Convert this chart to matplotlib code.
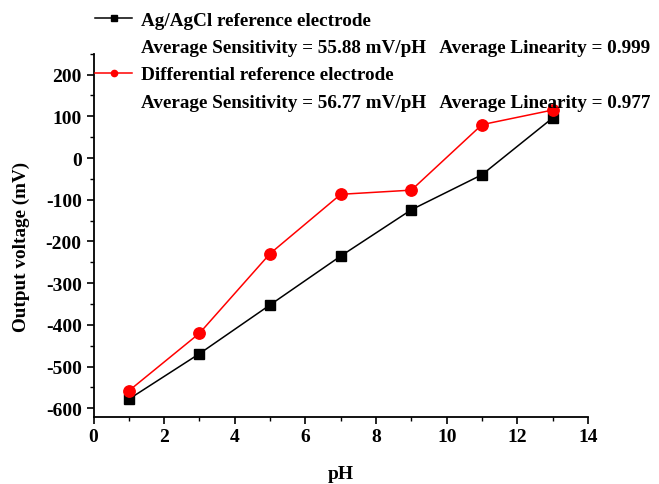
import matplotlib.pyplot as plt
from matplotlib.lines import Line2D
from matplotlib.ticker import MultipleLocator

# --- data ---
ph = [1, 3, 5, 7, 9, 11, 13]
agcl_mv = [-578, -469, -352, -235, -124, -40, 96]
diff_mv = [-558, -420, -229, -87, -77, 80, 115]

label_agcl = "Ag/AgCl reference electrode"
stats_agcl = "Average Sensitivity = 55.88 mV/pH   Average Linearity = 0.999"
label_diff = "Differential reference electrode"
stats_diff = "Average Sensitivity = 56.77 mV/pH   Average Linearity = 0.977"

plt.rcParams['font.family'] = ['Liberation Serif', 'DejaVu Serif']
plt.rcParams['font.weight'] = 'bold'
plt.rcParams['axes.unicode_minus'] = False

fig = plt.figure(figsize=(6.59, 4.85), dpi=100)
ax = fig.add_axes([0.1419, 0.1388, 0.7503, 0.7484])

ax.plot(ph, agcl_mv, '-', color='black', lw=1.1, marker='s', ms=7, zorder=2)
ax.plot(ph, diff_mv, '-', color='#ff0000', lw=1.1, marker='o', ms=8.2, zorder=3)

ax.set_xlim(0, 14)
ax.set_ylim(-620, 250)
ax.xaxis.set_major_locator(MultipleLocator(2))
ax.xaxis.set_minor_locator(MultipleLocator(1))
ax.yaxis.set_major_locator(MultipleLocator(100))
ax.yaxis.set_minor_locator(MultipleLocator(50))

for side in ['top', 'right']:
    ax.spines[side].set_visible(False)
for side in ['left', 'bottom']:
    ax.spines[side].set_linewidth(1.3)
ax.tick_params(which='major', direction='out', length=5, width=1.2, labelsize=14)
ax.tick_params(which='minor', direction='out', length=3, width=1.0)
for lbl in ax.get_xticklabels() + ax.get_yticklabels():
    lbl.set_fontweight('bold')

ax.set_xlabel('pH', fontsize=14, fontweight='bold')
ax.set_ylabel('Output voltage (mV)', fontsize=13.8, fontweight='bold')
ax.xaxis.set_label_coords(0.5, -0.134)
ax.yaxis.set_label_coords(-0.128, 0.47)

h1 = Line2D([], [], color='black', lw=1.1, marker='s', ms=4)
h2 = Line2D([], [], color='#ff0000', lw=1.1, marker='o', ms=4.5)
blank = Line2D([], [], color='none')
fig.legend([h1, blank, h2, blank], [label_agcl, stats_agcl, label_diff, stats_diff],
           loc='upper left', bbox_to_anchor=(0.144, 0.975), frameon=False,
           prop={'family': 'Liberation Serif', 'weight': 'bold', 'size': 13.8},
           handlelength=1.95, handletextpad=0.45, labelspacing=0.52,
           borderpad=0, borderaxespad=0)

fig.savefig('out.png', dpi=100)
